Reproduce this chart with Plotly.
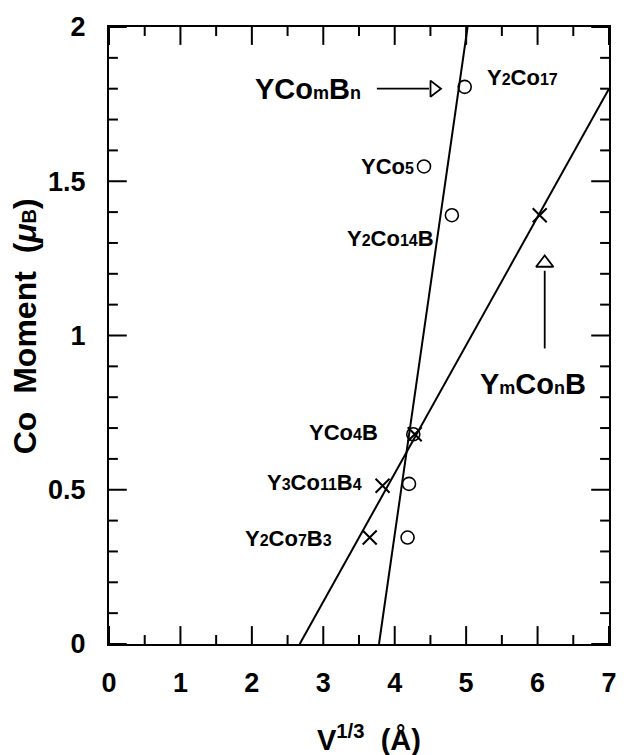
import plotly.graph_objects as go

# ---- data ----
compounds = ["Y2Co17", "YCo5", "Y2Co14B", "YCo4B", "Y3Co11B4", "Y2Co7B3"]
circle_x = [4.98, 4.41, 4.80, 4.26, 4.20, 4.18]
circle_y = [1.806, 1.548, 1.39, 0.68, 0.519, 0.345]

cross_x = [6.03, 4.28, 3.83, 3.65]
cross_y = [1.39, 0.68, 0.513, 0.345]

fit1_x = [3.78, 5.02]
fit1_y = [0.0, 2.0]
fit2_x = [2.67, 7.0]
fit2_y = [0.0, 1.80]

x_range = [0, 7]
y_range = [0, 2]
x_tickvals = [0, 1, 2, 3, 4, 5, 6, 7]
x_ticktext = ["0", "1", "2", "3", "4", "5", "6", "7"]
y_tickvals = [0, 0.5, 1, 1.5, 2]
y_ticktext = ["0", "0.5", "1", "1.5", "2"]
x_minor_step, y_minor_step = 0.5, 0.1

sub = '<span style="font-size:16px">{}</span>'
label_text = [
    "Y" + sub.format("2") + "Co" + sub.format("17"),
    "YCo" + sub.format("5"),
    "Y" + sub.format("2") + "Co" + sub.format("14") + "B",
    "YCo" + sub.format("4") + "B",
    "Y" + sub.format("3") + "Co" + sub.format("11") + "B" + sub.format("4"),
    "Y" + sub.format("2") + "Co" + sub.format("7") + "B" + sub.format("3"),
]
label_x = [5.27, 4.30, 4.58, 3.79, 3.57, 3.15]
label_y = [1.835, 1.548, 1.313, 0.684, 0.523, 0.342]
label_anchor = ["left", "right", "right", "right", "right", "right"]

bsub = '<span style="font-size:18px">{}</span>'
big_text = ["YCo" + bsub.format("m") + "B" + bsub.format("n"),
            "Y" + bsub.format("m") + "Co" + bsub.format("n") + "B"]
big_x = [2.78, 5.93]
big_y = [1.80, 0.842]

harrow_x = [3.75, 4.48]
harrow_y = [1.80, 1.80]
harrow_head = (4.55, 1.80)
varrow_x = [6.10, 6.10]
varrow_y = [0.958, 1.21]
varrow_head = (6.10, 1.235)

FONT = "Liberation Sans, Arial, Helvetica, sans-serif"

# ---- layout geometry ----
W, H = 629, 755
ML, MR, MT, MB = 109, 14, 24, 111
plot_w = W - ML - MR
plot_h = H - MT - MB
MAJOR_PX, MINOR_PX = 18, 9

# tick lengths converted from pixels to data units
x_unit = (x_range[1] - x_range[0]) / plot_w
y_unit = (y_range[1] - y_range[0]) / plot_h

n_xminor = int(round((x_range[1] - x_range[0]) / x_minor_step))
x_minor = [x_range[0] + i * x_minor_step for i in range(n_xminor + 1)
           if round(x_range[0] + i * x_minor_step, 6) not in x_tickvals]
n_yminor = int(round((y_range[1] - y_range[0]) / y_minor_step))
y_minor = [round(y_range[0] + i * y_minor_step, 6) for i in range(n_yminor + 1)]
y_minor = [v for v in y_minor if v not in y_tickvals]

tx, ty = [], []
for vals, px in ((x_tickvals, MAJOR_PX), (x_minor, MINOR_PX)):
    L = px * y_unit
    for v in vals:
        tx += [v, v, None, v, v, None]
        ty += [y_range[0], y_range[0] + L, None, y_range[1], y_range[1] - L, None]
for vals, px in ((y_tickvals, MAJOR_PX), (y_minor, MINOR_PX)):
    L = px * x_unit
    for v in vals:
        tx += [x_range[0], x_range[0] + L, None, x_range[1], x_range[1] - L, None]
        ty += [v, v, None, v, v, None]

fig = go.Figure()

fig.add_trace(go.Scatter(x=tx, y=ty, mode="lines", line=dict(color="black", width=2),
                         hoverinfo="skip", showlegend=False))
fig.add_trace(go.Scatter(x=fit1_x, y=fit1_y, mode="lines",
                         line=dict(color="black", width=2), showlegend=False))
fig.add_trace(go.Scatter(x=fit2_x, y=fit2_y, mode="lines",
                         line=dict(color="black", width=2), showlegend=False))
fig.add_trace(go.Scatter(x=circle_x, y=circle_y, mode="markers",
                         marker=dict(symbol="circle-open", size=13, color="black",
                                     line=dict(width=1.6, color="black")),
                         showlegend=False))
fig.add_trace(go.Scatter(x=cross_x, y=cross_y, mode="markers",
                         marker=dict(symbol="x-thin-open", size=14, color="black",
                                     line=dict(width=2, color="black")),
                         showlegend=False))
fig.add_trace(go.Scatter(x=harrow_x, y=harrow_y, mode="lines",
                         line=dict(color="black", width=1.8), showlegend=False))
fig.add_trace(go.Scatter(x=[harrow_head[0]], y=[harrow_head[1]], mode="markers",
                         marker=dict(symbol="triangle-right-open", size=14, color="black",
                                     line=dict(width=1.8, color="black")),
                         showlegend=False))
fig.add_trace(go.Scatter(x=varrow_x, y=varrow_y, mode="lines",
                         line=dict(color="black", width=1.8), showlegend=False))
fig.add_trace(go.Scatter(x=[varrow_head[0]], y=[varrow_head[1]], mode="markers",
                         marker=dict(symbol="triangle-up-open", size=15, color="black",
                                     line=dict(width=1.8, color="black")),
                         showlegend=False))

for t, x, y, a in zip(label_text, label_x, label_y, label_anchor):
    fig.add_annotation(x=x, y=y, text="<b>" + t + "</b>", showarrow=False, xanchor=a,
                       yanchor="middle", font=dict(family=FONT, size=22, color="black"))
for t, x, y in zip(big_text, big_x, big_y):
    fig.add_annotation(x=x, y=y, text="<b>" + t + "</b>", showarrow=False, xanchor="center",
                       yanchor="middle", font=dict(family=FONT, size=29, color="black"))

fig.add_annotation(xref="paper", yref="paper", x=0.52, y=-0.152,
                   text="<b>V<sup>1/3</sup>\u00a0\u00a0(Å)</b>", showarrow=False,
                   xanchor="center", yanchor="middle",
                   font=dict(family=FONT, size=29, color="black"))
fig.add_annotation(xref="paper", yref="paper", x=-0.168, y=0.515,
                   text="<b>Co\u00a0\u00a0Moment\u00a0\u00a0(<i>μ</i>" +
                        '<span style="font-size:20px">B</span>)</b>',
                   showarrow=False, textangle=-90, xanchor="center", yanchor="middle",
                   font=dict(family=FONT, size=32, color="black"))

tickfont = dict(family=FONT, size=27, color="black")
base = dict(ticks="", showline=True, linecolor="black", linewidth=2, mirror=True,
            showgrid=False, zeroline=False)

fig.update_layout(
    width=W, height=H,
    margin=dict(l=ML, r=MR, t=MT, b=MB),
    plot_bgcolor="white", paper_bgcolor="white",
    font=dict(family=FONT, color="black"),
    xaxis=dict(range=x_range, tickmode="array", tickvals=x_tickvals,
               ticktext=["<b>" + s + "</b>" for s in x_ticktext],
               tickfont=tickfont, ticklabelstandoff=14, **base),
    yaxis=dict(range=y_range, tickmode="array", tickvals=y_tickvals,
               ticktext=["<b>" + s + "</b>" for s in y_ticktext],
               tickfont=tickfont, ticklabelstandoff=16, **base),
)

fig.write_html("out.html")
